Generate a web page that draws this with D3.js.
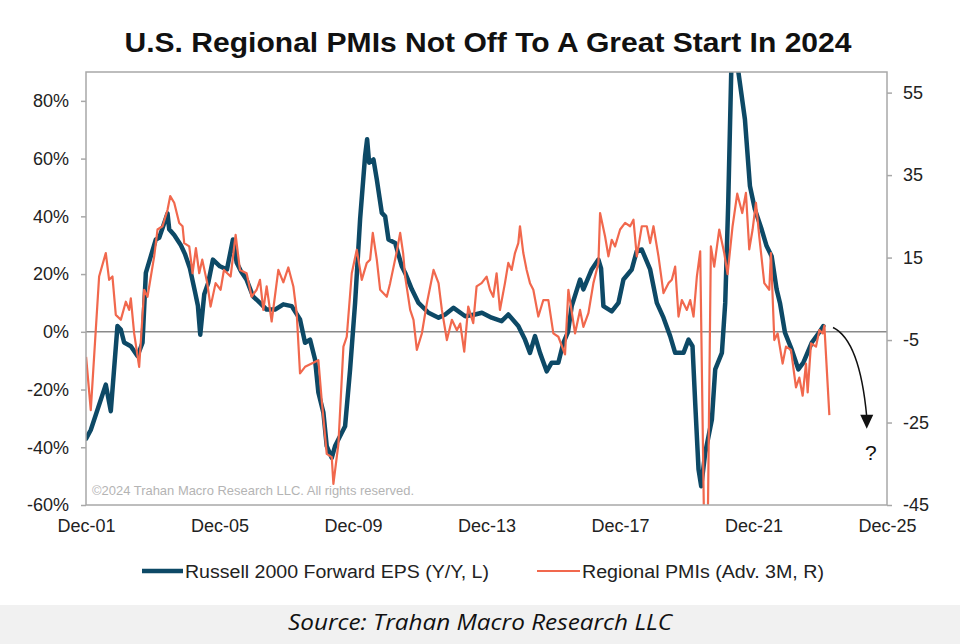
<!DOCTYPE html>
<html>
<head>
<meta charset="utf-8">
<script src="https://cdn.jsdelivr.net/npm/d3@7/dist/d3.min.js"></script>
<style>
  html, body { margin: 0; padding: 0; background: #ffffff; }
  svg { display: block; }
</style>
</head>
<body>
<svg id="chart" width="960" height="644"></svg>
<script>
// ---------------- DATA ----------------
const titleText = "U.S. Regional PMIs Not Off To A Great Start In 2024";
const seriesNames = ["Russell 2000 Forward EPS (Y/Y, L)", "Regional PMIs (Adv. 3M, R)"];
const xTickYears = [2001.917, 2005.917, 2009.917, 2013.917, 2017.917, 2021.917, 2025.917];
const xTickLabels = ["Dec-01", "Dec-05", "Dec-09", "Dec-13", "Dec-17", "Dec-21", "Dec-25"];
const leftTicks = [80, 60, 40, 20, 0, -20, -40, -60];
const rightTicks = [55, 35, 15, -5, -25, -45];

// Russell 2000 forward EPS, Y/Y % (left axis)
const rutYears = [2001.92, 2002.06, 2002.51, 2002.66, 2002.86, 2002.96, 2003.06, 2003.26, 2003.46, 2003.61,
  2003.71, 2003.86, 2004.01, 2004.11, 2004.36, 2004.41, 2004.56, 2004.76, 2004.88, 2005.03,
  2005.18, 2005.27, 2005.34, 2005.46, 2005.58, 2005.72, 2005.93, 2006.14, 2006.32, 2006.43,
  2006.56, 2006.73, 2006.92, 2007.13, 2007.33, 2007.58, 2007.83, 2008.08, 2008.33, 2008.48,
  2008.63, 2008.78, 2008.88, 2009.03, 2009.13, 2009.28, 2009.38, 2009.58, 2009.68, 2009.83,
  2009.98, 2010.13, 2010.28, 2010.34, 2010.40, 2010.53, 2010.63, 2010.78, 2010.88, 2010.98,
  2011.18, 2011.38, 2011.48, 2011.68, 2011.88, 2012.18, 2012.48, 2012.68, 2012.93, 2013.28,
  2013.57, 2013.78, 2014.07, 2014.37, 2014.57, 2014.87, 2015.07, 2015.22, 2015.37, 2015.52,
  2015.72, 2015.87, 2016.07, 2016.22, 2016.36, 2016.47, 2016.72, 2016.82, 2017.07, 2017.27,
  2017.35, 2017.42, 2017.67, 2017.87, 2018.02, 2018.27, 2018.42, 2018.57, 2018.82, 2019.02,
  2019.22, 2019.42, 2019.57, 2019.82, 2019.97, 2020.09, 2020.17, 2020.27, 2020.35, 2020.47,
  2020.67, 2020.77, 2020.97, 2021.07, 2021.16, 2021.26, 2021.35, 2021.44, 2021.66, 2021.81,
  2021.96, 2022.16, 2022.31, 2022.46, 2022.61, 2022.71, 2022.86, 2023.06, 2023.26, 2023.41,
  2023.66, 2023.91, 2024.01];
const rutEps = [-37, -34, -18.3, -27.5, 2, 0.8, -3.7, -5, -8.4, -3.8,
  20.4, 26.2, 32, 32.6, 41, 35.5, 33.5, 30, 27, 22,
  14, 9, -1, 13, 17, 25, 22.7, 21.6, 32, 24,
  21, 18, 12.3, 10, 7.7, 7.7, 9.5, 8.9, 4.3, -3.8,
  -2.7, -9.6, -21, -28, -39.6, -43.7, -39.6, -35, -32.7, -13,
  10, 39, 61, 66.7, 58.6, 59.7, 52.8, 41.2, 40, 32,
  30.8, 22.7, 20.4, 14.7, 10, 6.6, 4.9, 6, 8.3, 5.4,
  6, 6.6, 4.9, 3.7, 6, 2, -2.7, -7.3, -1.5, -7.3,
  -13.7, -10.7, -10.7, -3.8, 0, 8.9, 18.1, 14.7, 21.6, 25,
  22, 8.9, 7.1, 10, 18.1, 21.6, 28, 28.5, 21.6, 10,
  4.9, -1.5, -7.3, -7.3, -2.7, -5, -24.6, -47.7, -53.5, -42,
  -30.4, -13, -7.3, 10, 44.7, 95, 110, 92, 73.6, 50.5,
  42.4, 35.5, 29.7, 26.2, 14.7, 10, -0.3, -6.1, -13, -10.7,
  -3.8, 0.2, 2];

// Regional PMIs, advanced 3 months (right axis)
const pmiYears = [2001.92, 2002.06, 2002.31, 2002.51, 2002.61, 2002.71, 2002.81, 2002.96, 2003.11, 2003.21,
  2003.26, 2003.36, 2003.51, 2003.66, 2003.76, 2003.96, 2004.06, 2004.21, 2004.36, 2004.44,
  2004.56, 2004.71, 2004.81, 2004.86, 2005.01, 2005.11, 2005.21, 2005.31, 2005.40, 2005.55,
  2005.65, 2005.80, 2005.95, 2006.05, 2006.25, 2006.40, 2006.53, 2006.73, 2006.88, 2007.03,
  2007.13, 2007.23, 2007.33, 2007.48, 2007.68, 2007.83, 2007.98, 2008.13, 2008.23, 2008.33,
  2008.48, 2008.68, 2008.88, 2008.98, 2009.13, 2009.28, 2009.33, 2009.48, 2009.63, 2009.73,
  2009.88, 2010.03, 2010.18, 2010.33, 2010.43, 2010.51, 2010.63, 2010.73, 2010.93, 2011.03,
  2011.23, 2011.33, 2011.42, 2011.48, 2011.63, 2011.73, 2011.83, 2011.98, 2012.13, 2012.33,
  2012.48, 2012.58, 2012.73, 2012.88, 2013.03, 2013.13, 2013.25, 2013.37, 2013.52, 2013.62,
  2013.77, 2013.92, 2014.02, 2014.12, 2014.22, 2014.32, 2014.47, 2014.57, 2014.67, 2014.77,
  2014.87, 2014.92, 2015.02, 2015.12, 2015.22, 2015.32, 2015.47, 2015.62, 2015.77, 2015.92,
  2016.07, 2016.27, 2016.37, 2016.57, 2016.72, 2016.82, 2016.97, 2017.12, 2017.27, 2017.32,
  2017.47, 2017.57, 2017.67, 2017.77, 2017.92, 2018.07, 2018.22, 2018.32, 2018.42, 2018.57,
  2018.72, 2018.82, 2018.92, 2019.07, 2019.22, 2019.37, 2019.47, 2019.57, 2019.67, 2019.77,
  2019.92, 2020.02, 2020.12, 2020.22, 2020.32, 2020.44, 2020.55, 2020.64, 2020.74, 2020.89,
  2021.04, 2021.14, 2021.29, 2021.43, 2021.58, 2021.69, 2021.79, 2021.89, 2021.99, 2022.09,
  2022.24, 2022.39, 2022.44, 2022.54, 2022.64, 2022.79, 2022.89, 2023.04, 2023.19, 2023.29,
  2023.39, 2023.49, 2023.54, 2023.64, 2023.79, 2023.89, 2023.99, 2024.04, 2024.19];
const pmiVals = [-9.1, -22, 10.4, 16.1, 9.6, 10.4, 1.1, -0.1, 4.3, 2.3,
  5.1, -3.4, -11.5, 7.2, 5.5, 15.3, 21.8, 22.6, 26.6, 29.9,
  28.3, 23.4, 22.6, 18.5, 17.7, 11.2, 17.3, 11.2, 14.5, 8.8,
  3.1, 8.8, 7.2, 12, 10.4, 20.5, 12, 11.2, 5.5, 7.2,
  9.6, 2.3, 8, -0.5, 12, 9, 12.6, 8, 1.5, -13.1,
  -11.5, -10.7, -9.9, -19.6, -32.6, -33.4, -39.9, -30.2, -6.6, -4.2,
  11.2, 16.9, 9.6, 13.7, 14.5, 21, 14.5, 7.2, 5.5, 8.8,
  16.5, 21, 16, 10.4, 2.3, -0.1, -7.4, -3.4, 3.9, 12,
  8.8, 2.3, -5, -0.1, -2.6, -1, -7.8, 3.1, -0.9, 8,
  8.8, 10.4, 7.2, 5.5, 11.2, 2.3, 8.8, 13.7, 12, 16.1,
  18.5, 22.6, 16.1, 12, 8.8, 7.2, 0.7, 4.7, 4.7, -3.4,
  -4.2, -8.5, 7.2, -3.4, 2.3, -1.8, 1.5, 8.8, 13.7, 25.8,
  20.1, 15.3, 19.3, 17.7, 21.8, 23.4, 22.6, 24.2, 15.3, 22.6,
  22.6, 18.5, 22.6, 15.3, 6.4, 8.8, 9.6, 12.8, 0.7, 4.7,
  2.3, 4.7, 0.7, 10.4, 16.5, -52, -48, 17.7, 12.8, 21.8,
  16.1, 11, 22.6, 30.5, 25.8, 30.7, 17, 21.8, 28.3, 20.1,
  8.8, 7.2, 16.1, -5, -3.4, -10.7, -6.6, -7.4, -16.5, -14.1,
  -18.5, -10.7, -17.7, -5.8, -6.6, -2.6, -3.4, -1.5, -23.2];

// annotation anchor (data units): arrow from end of PMI line towards "?"
const arrowStart = [2024.30, 1.5];   // [year, left-axis %]
const arrowCtrl  = [2025.10, -3.0];
const arrowEnd   = [2025.31, -26.5]; // [year, right-axis value]

// ---------------- LAYOUT ----------------
const W = 960, H = 644;
const plot = { left: 86, right: 887, top: 72, bottom: 505 };
const navy = "#0d4966";
const orange = "#f1684d";
const font = "'Liberation Sans', Arial, sans-serif";

const svg = d3.select("#chart");

const x = d3.scaleLinear().domain([2001.917, 2025.917]).range([plot.left, plot.right]);
const yL = d3.scaleLinear().domain([-60, 90]).range([plot.bottom, plot.top]);
const yR = d3.scaleLinear().domain([-45, 60]).range([plot.bottom, plot.top]);

// background
svg.append("rect").attr("x", 0).attr("y", 0).attr("width", W).attr("height", H).attr("fill", "#ffffff");

// source band
svg.append("rect").attr("x", 0).attr("y", 605).attr("width", W).attr("height", H - 605).attr("fill", "#f1f1f1");
svg.append("text")
  .attr("x", 480).attr("y", 630)
  .attr("text-anchor", "middle")
  .attr("font-family", "'Open Sans', 'Noto Sans', sans-serif")
  .attr("font-style", "italic")
  .attr("font-size", 22)
  .attr("fill", "#111")
  .attr("textLength", 384).attr("lengthAdjust", "spacingAndGlyphs")
  .text("Source: Trahan Macro Research LLC");

// title
svg.append("text")
  .attr("x", 488).attr("y", 52)
  .attr("text-anchor", "middle")
  .attr("font-family", font)
  .attr("font-weight", "bold")
  .attr("font-size", 27)
  .attr("fill", "#111")
  .attr("textLength", 727).attr("lengthAdjust", "spacingAndGlyphs")
  .text(titleText);

// clip
svg.append("defs").append("clipPath").attr("id", "plotClip")
  .append("rect").attr("x", plot.left).attr("y", plot.top)
  .attr("width", plot.right - plot.left).attr("height", plot.bottom - plot.top);

// copyright
svg.append("text")
  .attr("x", 92).attr("y", 495)
  .attr("font-family", font)
  .attr("font-size", 13)
  .attr("fill", "#b4b4b4")
  .attr("textLength", 322).attr("lengthAdjust", "spacingAndGlyphs")
  .text("\u00A92024 Trahan Macro Research LLC. All rights reserved.");

// zero line
svg.append("line")
  .attr("x1", plot.left).attr("x2", plot.right)
  .attr("y1", yL(0)).attr("y2", yL(0))
  .attr("stroke", "#8a8a8a").attr("stroke-width", 1.5);

// lines
const rutData = rutYears.map((d, i) => [d, rutEps[i]]);
const pmiData = pmiYears.map((d, i) => [d, pmiVals[i]]);
const lineL = d3.line().x(d => x(d[0])).y(d => yL(d[1]));
const lineR = d3.line().x(d => x(d[0])).y(d => yR(d[1]));

const g = svg.append("g").attr("clip-path", "url(#plotClip)");
g.append("path").datum(rutData).attr("d", lineL)
  .attr("fill", "none").attr("stroke", navy).attr("stroke-width", 4.5)
  .attr("stroke-linejoin", "round").attr("stroke-linecap", "round");
g.append("path").datum(pmiData).attr("d", lineR)
  .attr("fill", "none").attr("stroke", orange).attr("stroke-width", 2.2)
  .attr("stroke-linejoin", "round");

// frame
svg.append("rect")
  .attr("x", plot.left).attr("y", plot.top)
  .attr("width", plot.right - plot.left).attr("height", plot.bottom - plot.top)
  .attr("fill", "none").attr("stroke", "#a8a8a8").attr("stroke-width", 1.5);

// axes
const axL = d3.axisLeft(yL).tickValues(leftTicks).tickFormat(d => d + "%").tickSize(5).tickPadding(12);
const axR = d3.axisRight(yR).tickValues(rightTicks).tickFormat(d => String(d)).tickSize(5).tickPadding(11);
const axB = d3.axisBottom(x).tickValues(xTickYears).tickFormat((d, i) => xTickLabels[i]).tickSize(0).tickPadding(14);

function styleAxis(sel) {
  sel.select(".domain").remove();
  sel.selectAll(".tick line").attr("stroke", "#a8a8a8").attr("stroke-width", 1.5);
  sel.selectAll(".tick text").attr("fill", "#222").attr("font-family", font).attr("font-size", 18);
}
svg.append("g").attr("transform", `translate(${plot.left},0)`).call(axL).call(styleAxis);
svg.append("g").attr("transform", `translate(${plot.right},0)`).call(axR).call(styleAxis);
svg.append("g").attr("transform", `translate(0,${plot.bottom})`).call(axB).call(styleAxis);

// arrow annotation
const p0 = [x(arrowStart[0]), yL(arrowStart[1])];
const pc = [x(arrowCtrl[0]), yL(arrowCtrl[1])];
const p2 = [x(arrowEnd[0]), yR(arrowEnd[1])];
const headLen = 14;
svg.append("path")
  .attr("d", `M${p0[0]},${p0[1]} Q${pc[0]},${pc[1]} ${p2[0]},${p2[1] - headLen + 2}`)
  .attr("fill", "none").attr("stroke", "#111").attr("stroke-width", 1.5);
svg.append("path")
  .attr("d", `M${p2[0] - 6.5},${p2[1] - headLen} L${p2[0] + 6.5},${p2[1] - headLen} L${p2[0]},${p2[1]} Z`)
  .attr("fill", "#111");
svg.append("text")
  .attr("x", p2[0] + 4).attr("y", p2[1] + 31)
  .attr("text-anchor", "middle")
  .attr("font-family", font).attr("font-size", 21).attr("fill", "#111")
  .text("?");

// legend
const legY = 571;
const leg = [
  { x1: 142, x2: 183, color: navy, w: 4.5, tx: 185, len: 304, name: seriesNames[0] },
  { x1: 537, x2: 580, color: orange, w: 2.2, tx: 582, len: 242, name: seriesNames[1] }
];
leg.forEach(l => {
  svg.append("line").attr("x1", l.x1).attr("x2", l.x2).attr("y1", legY).attr("y2", legY)
    .attr("stroke", l.color).attr("stroke-width", l.w);
  svg.append("text").attr("x", l.tx).attr("y", legY + 6.5)
    .attr("font-family", font).attr("font-size", 18).attr("fill", "#222")
    .attr("textLength", l.len).attr("lengthAdjust", "spacingAndGlyphs")
    .text(l.name);
});
</script>
</body>
</html>
